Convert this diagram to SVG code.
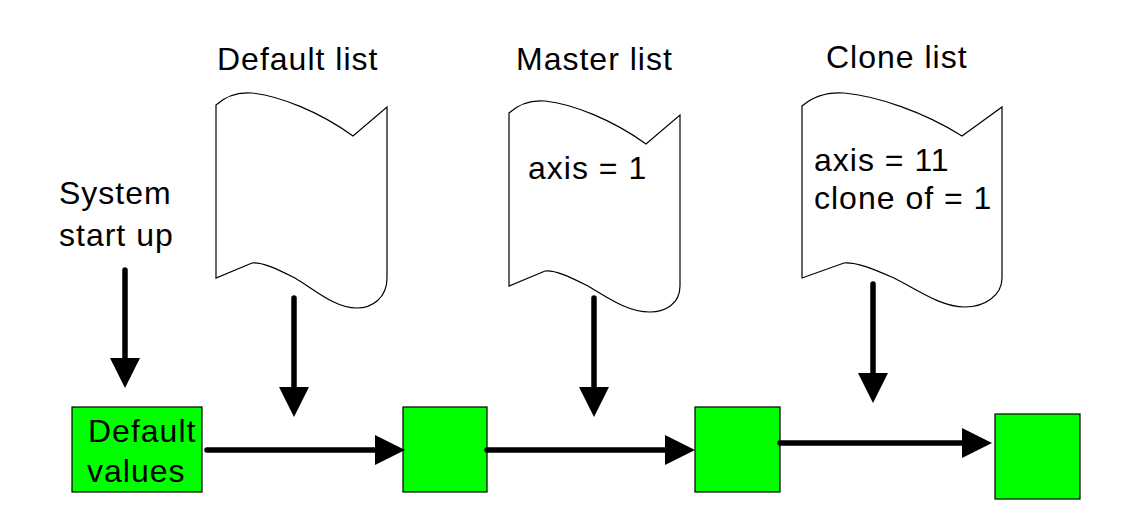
<svg xmlns="http://www.w3.org/2000/svg" width="1131" height="532" viewBox="0 0 1131 532">
<style>
.t{font-family:"Liberation Sans",Arial,sans-serif;font-size:32px;letter-spacing:1px;fill:#000}
.doc{fill:#fff;stroke:#000;stroke-width:1.2}
.box{fill:#00ff00;stroke:#000;stroke-width:1.2}
.ar{stroke:#000;stroke-width:5.5;fill:none;stroke-linecap:round;marker-end:url(#ah)}
</style>
<defs>
<marker id="ah" markerUnits="userSpaceOnUse" markerWidth="30" markerHeight="30" refX="5" refY="15" orient="auto" viewBox="0 0 30 30">
<path d="M0,0 L30,15 L0,30 Z" fill="#000"/>
</marker>
</defs>
<g id="labels">
<text class="t" x="217" y="70">Default list</text>
<text class="t" x="516" y="70">Master list</text>
<text class="t" x="826" y="68">Clone list</text>
<text class="t" x="59" y="204">System</text>
<text class="t" x="59" y="246">start up</text>
</g>
<g id="default-list">
<path class="doc" d="M216,105 C228,94 240,92 252,93 C280,96 320,112 353,136 L387,107 L387,278 C387,298 372,308 357,308 C335,308 315,290 295,278 C275,268 262,262 252,263 L216,278 Z"/>
</g>
<g id="master-list">
<path class="doc" transform="translate(293,8)" d="M216,105 C228,94 240,92 252,93 C280,96 320,112 353,136 L387,107 L387,278 C387,296 372,304 357,304 C335,304 315,290 295,278 C275,268 262,262 252,263 L216,278 Z"/>
<text class="t" x="528" y="179">axis = 1</text>
</g>
<g id="clone-list">
<path class="doc" d="M802,106 C816,94 830,92 844,93 C877,96 924,112 962,136 L1002,107 L1002,278 C1002,296 984,307 965,307 C941,307 918,290 894,278 C871,268 856,262 844,263 L802,278 Z"/>
<text class="t" x="814" y="171">axis = 11</text>
<text class="t" x="814" y="209">clone of = 1</text>
</g>
<g id="default-values">
<rect class="box" x="72" y="407" width="130" height="85"/>
<text class="t" x="88" y="442">Default</text>
<text class="t" x="87" y="482">values</text>
</g>
<g id="state-1"><rect class="box" x="403" y="407" width="84" height="85"/></g>
<g id="state-2"><rect class="box" x="695" y="407" width="85" height="85"/></g>
<g id="state-3"><rect class="box" x="995" y="414" width="85" height="85"/></g>
<g id="connectors">
<line class="ar" x1="125" y1="270" x2="125" y2="363"/>
<line class="ar" x1="294" y1="298" x2="294" y2="392"/>
<line class="ar" x1="594" y1="298" x2="594" y2="392"/>
<line class="ar" x1="873" y1="284" x2="873" y2="378"/>
<line class="ar" x1="207" y1="450" x2="380" y2="450"/>
<line class="ar" x1="487" y1="450" x2="670" y2="450"/>
<line class="ar" x1="780" y1="443" x2="967" y2="443"/>
</g>
</svg>
